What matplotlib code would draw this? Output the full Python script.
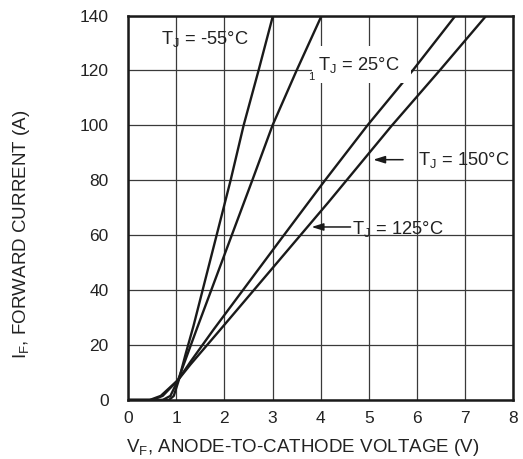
import matplotlib
matplotlib.use("Agg")
import matplotlib.pyplot as plt
from matplotlib.patches import Rectangle

plt.rcParams['font.family'] = ['Liberation Sans', 'DejaVu Sans']
plt.rcParams['mathtext.default'] = 'regular'

# Data
vf_m55 = [0, 0.85, 0.95, 1.05, 1.2, 1.36, 2.13, 2.40, 2.71, 3.01]
if_m55 = [0, 0, 1.5, 7, 17, 27, 80, 100, 120, 140]

vf_25 = [0, 0.72, 0.88, 1.04, 1.2, 1.43, 2.58, 3.0, 3.5, 4.02]
if_25 = [0, 0, 1.5, 7.3, 15, 26, 80, 100, 120, 140]

vf_125 = [0, 0.5, 0.72, 1.04, 1.3, 1.77, 3.15, 4.09, 4.97, 5.91, 6.80]
if_125 = [0, 0, 1.5, 7.3, 14, 25.5, 58, 80, 100, 120, 140]

vf_150 = [0, 0.45, 0.68, 1.04, 1.3, 1.91, 4.16, 5.48, 6.47, 7.44]
if_150 = [0, 0, 1.5, 7.3, 13, 25.5, 72, 100, 120, 140]

x_ticks = [0, 1, 2, 3, 4, 5, 6, 7, 8]
y_ticks = [0, 20, 40, 60, 80, 100, 120, 140]

fig = plt.figure(figsize=(5.23, 4.59), dpi=100)
ax = fig.add_axes([128/523, 1-400/459, 385.4/523, 384.5/459])

for vf, i_f in [(vf_m55, if_m55), (vf_25, if_25), (vf_125, if_125), (vf_150, if_150)]:
    ax.plot(vf, i_f, color='#1a1a1a', lw=1.7, zorder=2, solid_capstyle='butt')

ax.set_xlim(0, 8)
ax.set_ylim(0, 140)
ax.set_xticks(x_ticks)
ax.set_yticks(y_ticks)
ax.tick_params(axis='both', length=0, labelsize=12.5, colors='#222222')
ax.tick_params(axis='x', pad=8)
ax.tick_params(axis='y', pad=14)
ax.grid(True, color='#3a3a3a', lw=0.9)
ax.set_axisbelow(True)
for s in ax.spines.values():
    s.set_linewidth(1.8)
    s.set_color('#1a1a1a')

ax.set_xlabel('V$_F$, ANODE-TO-CATHODE VOLTAGE (V)', fontsize=13.5, color='#222222')
ax.set_ylabel('I$_F$, FORWARD CURRENT (A)', fontsize=13.5, color='#222222')
ax.xaxis.set_label_coords(0.454, -0.095)
ax.yaxis.set_label_coords(-0.25, 0.43)

# white box behind the 25°C label
ax.add_patch(Rectangle((3.82, 115.6), 2.05, 13.4, facecolor='white', edgecolor='none', zorder=3))

tk = dict(fontsize=13.2, color='#222222', zorder=4)
ax.text(0.68, 129.8, 'T$_J$ = -55°C', va='baseline', ha='left', **tk)
ax.text(3.94, 120.3, 'T$_J$ = 25°C', va='baseline', ha='left', **tk)
ax.text(3.81, 117.5, '1', va='center', ha='center', fontsize=8, color='#222222', zorder=4)
ax.text(6.02, 85.5, 'T$_J$ = 150°C', va='baseline', ha='left', **tk)
ax.text(4.64, 60.4, 'T$_J$ = 125°C', va='baseline', ha='left', **tk)

ap = dict(arrowstyle='-|>,head_length=0.7,head_width=0.22', color='#1a1a1a', lw=1.1, shrinkA=0, shrinkB=0)
ax.annotate('', xy=(5.09, 87.5), xytext=(5.71, 87.5), arrowprops=ap, zorder=4)
ax.annotate('', xy=(3.81, 63), xytext=(4.62, 63), arrowprops=ap, zorder=4)

fig.savefig('out.png', dpi=100)
